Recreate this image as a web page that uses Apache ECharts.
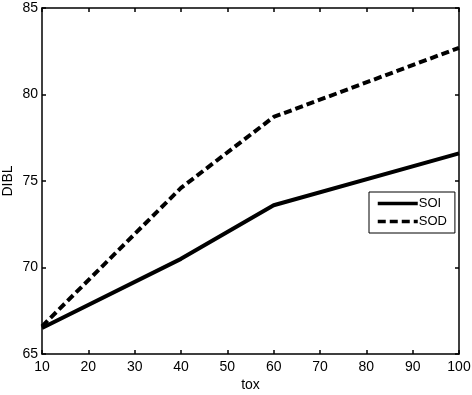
<!DOCTYPE html>
<html>
<head>
<meta charset="utf-8">
<script src="https://cdn.jsdelivr.net/npm/echarts@6/dist/echarts.min.js"></script>
<style>
  html, body { margin: 0; padding: 0; background: #fff; }
  #main { width: 472px; height: 395px; }
</style>
</head>
<body>
<div id="main"></div>
<script>
// tox values and DIBL for the two devices
const tox = [10, 40, 60, 100];
const soi = [66.5, 70.5, 73.6, 76.6];
const sod = [66.6, 74.6, 78.7, 82.7];

const font = 'Liberation Sans, Arial, sans-serif';

function pairs(ys) {
  return tox.map((x, i) => [x, ys[i]]);
}

const boxAxis = {
  axisLine: { show: true, lineStyle: { color: '#000', width: 1.5 } },
  axisTick: { show: true, inside: true, length: 4, lineStyle: { color: '#000', width: 1.5 } },
  splitLine: { show: false }
};

const chart = echarts.init(document.getElementById('main'));
chart.setOption({
  backgroundColor: '#fff',
  animation: false,
  grid: { left: 42, right: 13, top: 8, bottom: 41, outerBoundsMode: 'none', containLabel: false },
  legend: {
    left: 369, top: 192,
    orient: 'vertical',
    borderColor: '#000', borderWidth: 1, borderRadius: 0,
    padding: [5, 8, 5, 7],
    itemGap: 5,
    itemWidth: 40, itemHeight: 10,
    itemStyle: { opacity: 0 },
    lineStyle: { width: 3.5 },
    textStyle: { fontFamily: font, fontSize: 13, color: '#000', padding: [0, 0, 0, -4] },
    data: ['SOI', 'SOD']
  },
  xAxis: [
    Object.assign({
      type: 'value', min: 10, max: 100, interval: 10,
      name: 'tox', nameLocation: 'middle', nameGap: 24, nameMoveOverlap: false,
      nameTextStyle: { fontFamily: font, fontSize: 14, color: '#000' },
      axisLabel: { fontFamily: font, fontSize: 14, color: '#000', margin: 6 }
    }, boxAxis),
    Object.assign({
      type: 'value', min: 10, max: 100, interval: 10, position: 'top',
      axisLabel: { show: false }
    }, boxAxis)
  ],
  yAxis: [
    Object.assign({
      type: 'value', min: 65, max: 85, interval: 5,
      name: 'DIBL', nameLocation: 'middle', nameGap: 27, nameMoveOverlap: false,
      nameTextStyle: { fontFamily: font, fontSize: 14, color: '#000' },
      axisLabel: { fontFamily: font, fontSize: 14, color: '#000', margin: 4 }
    }, boxAxis),
    Object.assign({
      type: 'value', min: 65, max: 85, interval: 5, position: 'right',
      axisLabel: { show: false }
    }, boxAxis)
  ],
  series: [
    {
      name: 'SOI', type: 'line', data: pairs(soi),
      symbol: 'none', color: '#000',
      lineStyle: { color: '#000', width: 4 }
    },
    {
      name: 'SOD', type: 'line', data: pairs(sod),
      symbol: 'none', color: '#000',
      lineStyle: { color: '#000', width: 4, type: [8, 4] }
    }
  ]
});
</script>
</body>
</html>
